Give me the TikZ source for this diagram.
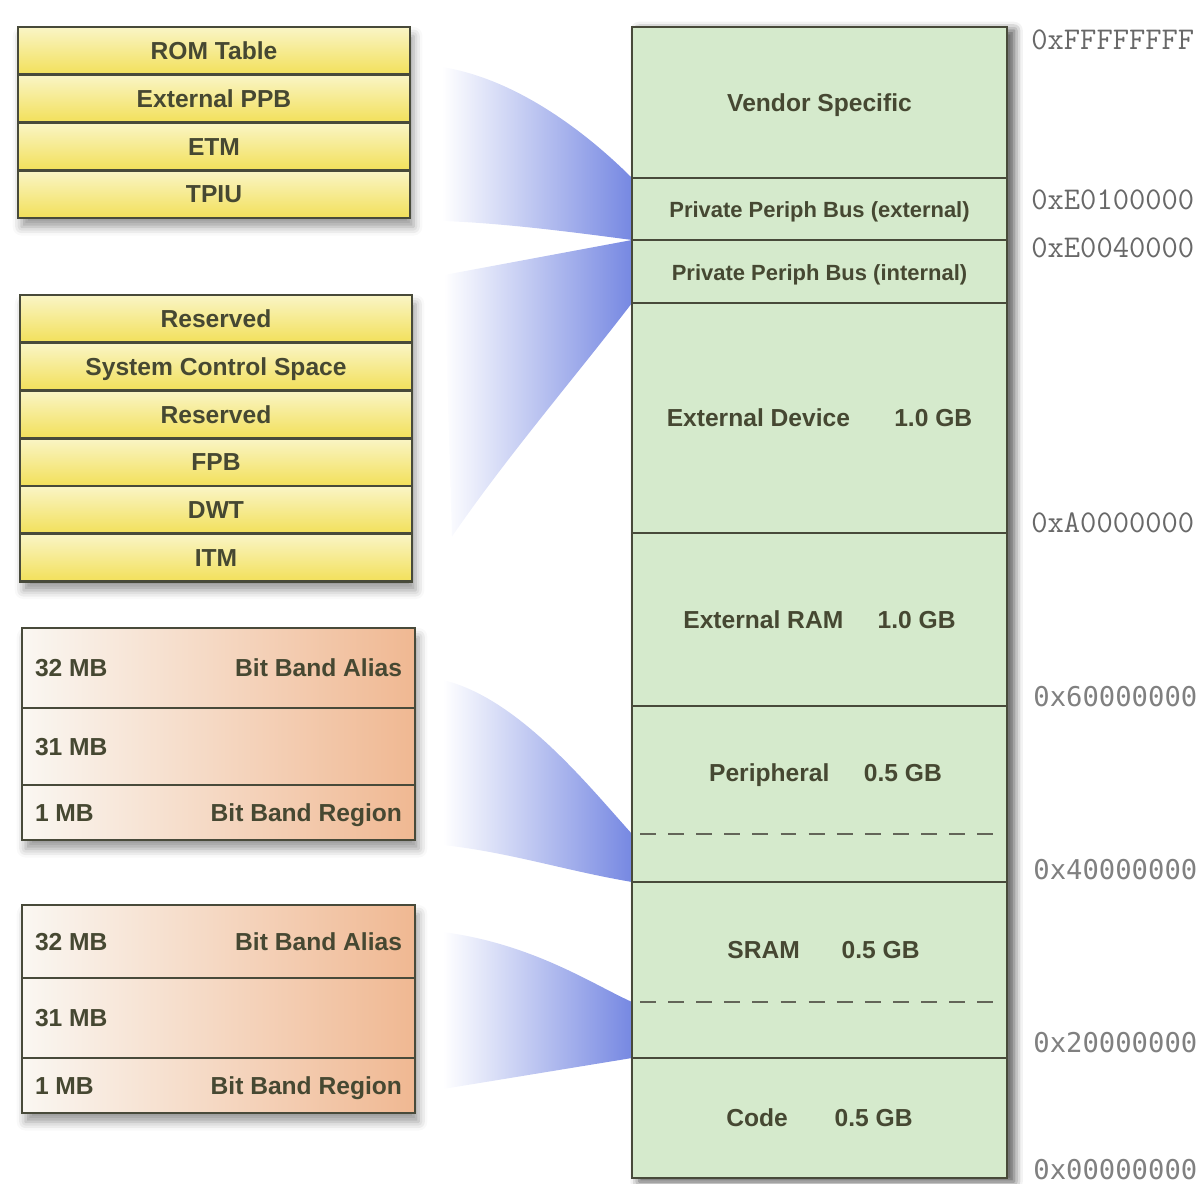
\documentclass[tikz,border=0pt]{standalone}
\usepackage{fontspec}
\setmainfont{Liberation Sans}
\newfontfamily\addrsans{DejaVu Sans Mono}
\usetikzlibrary{positioning,calc,backgrounds,shadows.blur}

\definecolor{edge}{RGB}{72,74,58}
\definecolor{ink}{RGB}{70,72,50}
\definecolor{ylight}{RGB}{250,245,198}
\definecolor{ydark}{RGB}{242,224,90}
\definecolor{olight}{RGB}{250,247,242}
\definecolor{odark}{RGB}{240,184,146}
\definecolor{memgreen}{RGB}{213,234,204}
\definecolor{wedge}{RGB}{118,136,226}
\definecolor{addrgray}{RGB}{104,104,104}
\definecolor{addrlight}{RGB}{128,128,128}

\tikzset{
  cell/.style={rectangle, draw=edge, line width=1.5pt, outer sep=0pt, inner sep=0pt,
    text=ink, text height=10pt, text depth=0pt, font=\bfseries\fontsize{14}{16}\selectfont},
  ycell/.style={cell, minimum width=78.4mm, minimum height=9.55mm, top color=ylight, bottom color=ydark},
  ocell/.style={cell, minimum width=78.6mm, left color=olight, right color=odark},
  memcell/.style={cell, minimum width=75mm, fill=memgreen},
  small/.style={font=\bfseries\fontsize{12.5}{14}\selectfont},
  tall/.style={minimum height=#1*0.2mm},
  bitline/.style={draw=edge!85, line width=1.2pt, dash pattern=on 9pt off 7pt},
  addr/.style={anchor=west, inner sep=0pt, text=addrgray},
  beam/.style={left color=white, right color=wedge, draw=none},
  drop/.style={fill=white, blur shadow={shadow xshift=2pt, shadow yshift=-5pt, shadow blur radius=5pt, shadow opacity=40}}
}

\begin{document}
\begin{tikzpicture}[x=0.2mm,y=-0.2mm]
  \useasboundingbox (0,0) rectangle (1202,1184);

  % debug and trace components
  \node[ycell, anchor=north west] (rom) at (18,27) {ROM Table};
  \node[ycell, below=0pt of rom] (eppb) {External PPB};
  \node[ycell, below=0pt of eppb] (etm) {ETM};
  \node[ycell, below=0pt of etm] (tpiu) {TPIU};

  \node[ycell, anchor=north west] (rsvtop) at (20,295) {Reserved};
  \node[ycell, below=0pt of rsvtop] (scs) {System Control Space};
  \node[ycell, below=0pt of scs] (rsvlow) {Reserved};
  \node[ycell, below=0pt of rsvlow] (fpb) {FPB};
  \node[ycell, below=0pt of fpb] (dwt) {DWT};
  \node[ycell, below=0pt of dwt] (itm) {ITM};

  % bit band areas
  \node[ocell, tall=80, anchor=north west] (aliasp) at (22,628) {\makebox[73.4mm]{32 MB\hfill Bit Band Alias}};
  \node[ocell, tall=77, below=0pt of aliasp] (gapp) {\makebox[73.4mm]{31 MB\hfill}};
  \node[ocell, tall=55, below=0pt of gapp] (regionp) {\makebox[73.4mm]{1 MB\hfill Bit Band Region}};

  \node[ocell, tall=73, anchor=north west] (aliass) at (22,905) {\makebox[73.4mm]{32 MB\hfill Bit Band Alias}};
  \node[ocell, tall=80, below=0pt of aliass] (gaps) {\makebox[73.4mm]{31 MB\hfill}};
  \node[ocell, tall=55, below=0pt of gaps] (regions) {\makebox[73.4mm]{1 MB\hfill Bit Band Region}};

  % memory map
  \node[memcell, tall=151, anchor=north west] (vendor) at (632,27) {Vendor Specific};
  \node[memcell, small, tall=62, below=0pt of vendor] (ppbext) {Private Periph Bus (external)};
  \node[memcell, small, tall=63, below=0pt of ppbext] (ppbint) {Private Periph Bus (internal)};
  \node[memcell, tall=230, below=0pt of ppbint] (extdev) {External Device\hspace{1.8em}1.0 GB};
  \node[memcell, tall=173, below=0pt of extdev] (extram) {External RAM\hspace{1.4em}1.0 GB};
  \node[memcell, tall=176, below=0pt of extram] (periph) {};
  \node[memcell, tall=176, below=0pt of periph] (sram) {};
  \node[memcell, tall=120, below=0pt of sram] (code) {Code\hspace{1.9em}0.5 GB};

  \node[cell, draw=none] (periphtxt) at ($(periph.north)+(6,67)$) {Peripheral\hspace{1.4em}0.5 GB};
  \node[cell, draw=none] (sramtxt) at ($(sram.north)+(4,68)$) {SRAM\hspace{1.7em}0.5 GB};

  \coordinate (pbb) at ($(periph.south west)+(0,-48)$);
  \coordinate (pbbe) at (pbb -| periph.east);
  \draw[bitline] ($(pbb)+(8,0)$) -- ($(pbbe)+(-14,0)$);
  \coordinate (sbb) at ($(sram.south west)+(0,-56)$);
  \coordinate (sbbe) at (sbb -| sram.east);
  \draw[bitline] ($(sbb)+(8,0)$) -- ($(sbbe)+(-14,0)$);

  % addresses
  \node[addr, font=\ttfamily\fontsize{18}{20}\selectfont] (aF) at (1031,40) {0xFFFFFFFF};
  \node[addr, font=\ttfamily\fontsize{18}{20}\selectfont] (aE1) at (1031,200) {0xE0100000};
  \node[addr, font=\ttfamily\fontsize{18}{20}\selectfont] (aE0) at (1031,248) {0xE0040000};
  \node[addr, font=\ttfamily\fontsize{18}{20}\selectfont] (aA) at (1031,523) {0xA0000000};
  \node[addr, text=addrlight, font=\addrsans\fontsize{15.5}{18}\selectfont] (a6) at (1033,697) {0x60000000};
  \node[addr, text=addrlight, font=\addrsans\fontsize{15.5}{18}\selectfont] (a4) at (1033,870) {0x40000000};
  \node[addr, text=addrlight, font=\addrsans\fontsize{15.5}{18}\selectfont] (a2) at (1033,1043) {0x20000000};
  \node[addr, text=addrlight, font=\addrsans\fontsize{15.5}{18}\selectfont] (a0) at (1033,1170) {0x00000000};

  \begin{scope}[on background layer]
    \path[drop] (rom.north west) rectangle (tpiu.south east);
    \path[drop] (rsvtop.north west) rectangle (itm.south east);
    \path[drop] (aliasp.north west) rectangle (regionp.south east);
    \path[drop] (aliass.north west) rectangle (regions.south east);
    \path[drop, blur shadow={shadow xshift=4pt, shadow yshift=-2pt}] (vendor.north west) rectangle (code.south east);

    \path[beam] ($(rom.north east)+(32,40)$) .. controls +(75,12) and +(-45,-45) .. (ppbext.north west)
      -- (ppbext.south west) .. controls +(-60,-8) and +(60,2) .. ($(tpiu.south east)+(32,3)$) -- cycle;
    \path[beam] ($(rsvtop.north east)+(32,-20)$) -- (ppbint.north west)
      -- (ppbint.south west) .. controls +(-60,78) and +(55,-80) .. ($(itm.south east)+(40,-45)$) -- cycle;
    \path[beam] ($(aliasp.north east)+(28,52)$) .. controls +(75,18) and +(-45,-50) .. (pbb)
      -- (periph.south west) .. controls +(-70,-12) and +(70,8) .. ($(regionp.south east)+(28,5)$) -- cycle;
    \path[beam] ($(aliass.north east)+(28,27)$) .. controls +(90,12) and +(-40,-18) .. (sbb)
      -- (sram.south west) -- ($(regions.south east)+(28,-24)$) -- cycle;
  \end{scope}
\end{tikzpicture}
\end{document}
